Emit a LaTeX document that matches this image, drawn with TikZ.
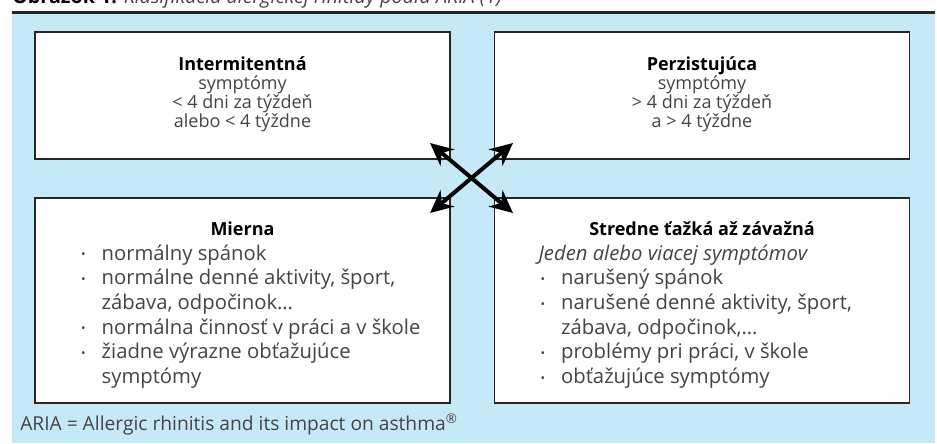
\documentclass[tikz,border=0pt]{standalone}
\usepackage{fontspec}
\setmainfont{Open Sans}
\usetikzlibrary{positioning,arrows.meta}
\definecolor{ariablue}{HTML}{C6E9F8}
\definecolor{ariatext}{HTML}{444444}
\newlength{\boxw}
\setlength{\boxw}{311.25pt}
\newcommand{\smallbul}{\makebox[17pt][l]{\hspace*{1.5pt}\fontsize{9}{9}\selectfont\raisebox{1pt}{•}}}
\newcommand{\bul}[1]{\makebox[\boxw][l]{\hspace*{33pt}\smallbul#1}}
\newcommand{\cont}[1]{\makebox[\boxw][l]{\hspace*{50pt}#1}}
\newcommand{\lead}[1]{\makebox[\boxw][l]{\hspace*{33pt}#1}}
\newcommand{\boxtitle}[1]{{\fontsize{13.5}{14}\selectfont\bfseries\color{black}#1}}
\tikzset{
  classbox/.style={draw=black!85, line width=0.8pt, fill=white, minimum width=311.25pt, inner xsep=0pt, align=center, text=ariatext},
  topbox/.style={classbox, minimum height=95.25pt, font=\fontsize{13.5}{14.25}\selectfont},
  lowbox/.style={classbox, minimum height=153.75pt, font=\fontsize{15.2}{18.5}\selectfont},
  crossarrow/.style={{Stealth[length=17pt,width=16pt]}-{Stealth[length=17pt,width=16pt]}, line width=3pt},
  notetext/.style={anchor=base west, inner sep=0pt, text=ariatext, font=\fontsize{14.4}{16}\selectfont}
}

\begin{document}
\begin{tikzpicture}[x=0.75pt, y=-0.75pt]
  \useasboundingbox (0,0) rectangle (937,443);
  \fill[ariablue] (12,13) rectangle (935,443);
  \draw[line width=2.3pt, black!85] (12,12.5) -- (935,12.5);
  \node[notetext, font=\fontsize{14.8}{16}\selectfont] (caption) at (12,3) {\textcolor{black}{\textbf{Obrázok 1.}} \textit{Klasifikácia alergickej rinitídy podľa ARIA (1)}};

  \node[topbox] (intermit) at (242.5,95.5) {\boxtitle{Intermitentná}\\symptómy\\< 4 dni za týždeň\\alebo < 4 týždne\\[-9pt]};
  \node[topbox] (persist) at (702,95.5) {\boxtitle{Perzistujúca}\\symptómy\\> 4 dni za týždeň\\a > 4 týždne\\[-9pt]};
  \node[lowbox] (mild) at (242.5,300.5) {\rule{0pt}{17pt}\boxtitle{Mierna}\\
    \bul{normálny spánok}\\
    \bul{normálne denné aktivity, šport,}\\
    \cont{zábava, odpočinok…}\\
    \bul{normálna činnosť v práci a v škole}\\
    \bul{žiadne výrazne obťažujúce}\\
    \cont{symptómy}};
  \node[lowbox] (severe) at (702,300.5) {\rule{0pt}{17pt}\boxtitle{Stredne ťažká až závažná}\\
    \lead{\textit{Jeden alebo viacej symptómov}}\\
    \bul{narušený spánok}\\
    \bul{narušené denné aktivity, šport,}\\
    \cont{zábava, odpočinok,…}\\
    \bul{problémy pri práci, v škole}\\
    \bul{obťažujúce symptómy}};

  \coordinate (nw) at (430,143);
  \coordinate (ne) at (513,143);
  \coordinate (sw) at (430,213);
  \coordinate (se) at (513,213);
  \draw[crossarrow] (nw) -- (se);
  \draw[crossarrow] (sw) -- (ne);

  \node[notetext] (footnote) at (20,430) {ARIA = Allergic rhinitis and its impact on asthma\textsuperscript{®}};
\end{tikzpicture}
\end{document}
